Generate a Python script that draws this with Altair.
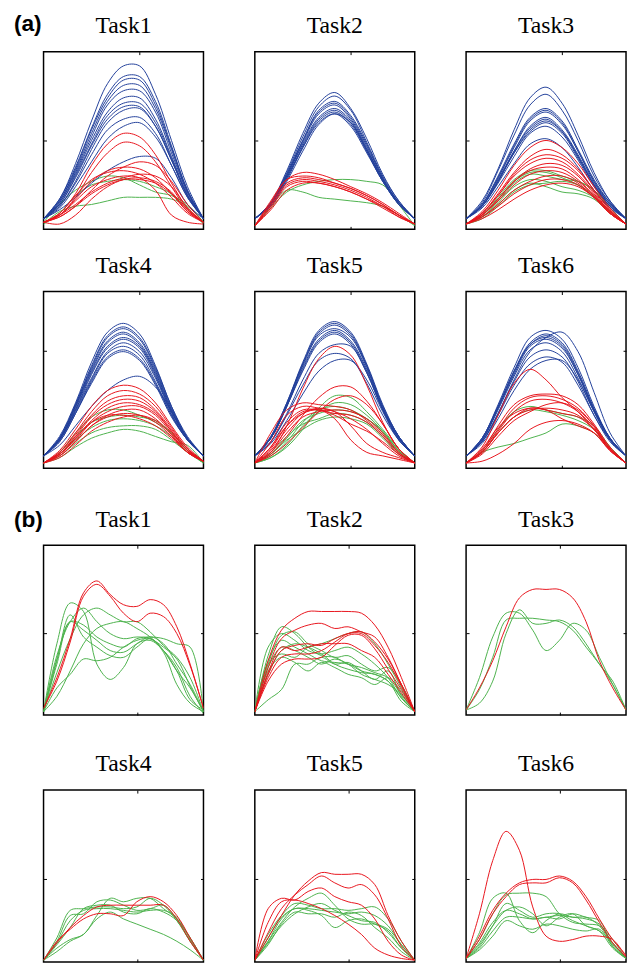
import altair as alt
import pandas as pd

# ---------------- data (percent of panel height, sampled across the movement) ----------------
BLUE = "#23409a"
RED = "#e8141c"
GREEN = "#4cb24c"

# ---- (a) ----
A1_BLUE = [
    [6, 17, 37, 61, 82, 92, 92, 76, 50, 24, 6],
    [6, 17, 35, 57, 76, 86, 86, 72, 47, 22, 6],
    [6, 16, 34, 56, 74, 84, 84, 70, 46, 22, 6],
    [6, 16, 33, 54, 72, 81, 81, 68, 45, 21, 6],
    [6, 15, 32, 52, 70, 78, 78, 66, 43, 21, 6],
    [6, 15, 31, 50, 66, 74, 74, 62, 41, 20, 6],
    [6, 14, 30, 48, 64, 71, 71, 60, 40, 19, 6],
    [6, 14, 29, 47, 62, 69, 69, 58, 39, 19, 6],
    [6, 13, 27, 45, 60, 67, 68, 58, 39, 19, 6],
    [6, 13, 26, 42, 56, 62, 63, 54, 36, 18, 6],
    [6, 12, 24, 38, 51, 58, 60, 52, 36, 18, 6],
    [6, 11, 18, 26, 33, 38, 41, 40, 29, 14, 6],
]
A1_RED = [
    [4, 9, 20, 36, 48, 54, 52, 42, 26, 12, 4],
    [4, 8, 18, 32, 43, 49, 47, 38, 24, 11, 4],
    [4, 7, 13, 22, 30, 35, 38, 36, 27, 14, 4],
    [4, 8, 17, 27, 33, 35, 34, 29, 20, 10, 4],
    [4, 9, 19, 28, 32, 33, 31, 26, 18, 9, 4],
    [4, 8, 14, 21, 26, 29, 31, 30, 24, 12, 4],
    [4, 3, 8, 17, 24, 28, 29, 27, 21, 10, 4],
    [4, 7, 13, 20, 25, 28, 28, 26, 20, 11, 4],
    [4, 8, 16, 24, 28, 30, 29, 22, 8, 4, 3],
]
A1_GREEN = [
    [4, 14, 22, 27, 30, 29, 25, 21, 19, 14, 4],
    [3, 10, 13, 14, 16, 18, 18, 18, 17, 13, 4],
    [3, 9, 19, 25, 27, 28, 27, 24, 20, 12, 3],
]

A2_BLUE = [
    [6, 15, 33, 54, 71, 77, 68, 51, 31, 16, 6],
    [6, 15, 32, 52, 69, 75, 67, 49, 30, 16, 6],
    [6, 15, 31, 50, 67, 72, 64, 48, 29, 15, 6],
    [6, 14, 31, 50, 66, 71, 63, 47, 29, 15, 6],
    [6, 14, 30, 49, 65, 70, 62, 46, 28, 15, 6],
    [6, 14, 30, 48, 63, 68, 61, 45, 28, 15, 6],
    [6, 14, 29, 47, 62, 67, 60, 44, 27, 15, 6],
    [6, 14, 29, 46, 61, 66, 59, 44, 27, 14, 6],
    [6, 14, 28, 46, 60, 65, 58, 43, 27, 14, 6],
    [6, 13, 27, 44, 59, 65, 60, 45, 28, 14, 6],
]
A2_RED = [
    [2, 15, 28, 32, 31, 28, 24, 20, 15, 9, 3],
    [2, 16, 28, 30, 29, 26, 23, 19, 14, 8, 3],
    [2, 14, 26, 29, 28, 26, 23, 19, 14, 8, 3],
    [2, 13, 25, 28, 27, 25, 22, 18, 13, 8, 3],
    [2, 12, 24, 27, 26, 24, 21, 17, 13, 7, 3],
    [2, 11, 22, 26, 26, 24, 21, 17, 12, 7, 3],
]
A2_GREEN = [
    [2, 12, 21, 25, 27, 28, 28, 27, 25, 14, 2],
    [2, 13, 22, 21, 18, 17, 16, 15, 13, 8, 2],
]

A3_BLUE = [
    [6, 16, 34, 56, 74, 80, 71, 53, 32, 16, 6],
    [6, 15, 33, 53, 70, 76, 67, 50, 30, 16, 6],
    [6, 14, 30, 48, 63, 68, 61, 45, 28, 15, 6],
    [6, 14, 29, 47, 62, 67, 60, 44, 27, 15, 6],
    [6, 14, 29, 46, 61, 66, 59, 44, 27, 14, 6],
    [6, 13, 28, 44, 58, 63, 56, 42, 26, 14, 6],
    [6, 13, 27, 44, 57, 62, 55, 41, 25, 14, 6],
    [6, 13, 27, 43, 56, 61, 55, 41, 25, 13, 6],
    [6, 13, 27, 43, 55, 60, 54, 40, 25, 13, 6],
    [6, 13, 26, 41, 54, 58, 52, 39, 24, 13, 6],
    [6, 12, 24, 37, 48, 51, 46, 35, 22, 12, 6],
]
A3_RED = [
    [3, 10, 22, 36, 46, 50, 46, 37, 24, 12, 3],
    [3, 9, 20, 32, 41, 45, 42, 34, 22, 11, 3],
    [3, 9, 19, 31, 39, 42, 40, 33, 22, 11, 3],
    [3, 9, 19, 30, 37, 40, 38, 31, 21, 10, 3],
    [3, 8, 17, 27, 34, 37, 36, 30, 20, 10, 3],
    [3, 8, 17, 27, 33, 35, 34, 28, 19, 10, 3],
    [3, 8, 16, 25, 31, 33, 32, 27, 19, 9, 3],
    [3, 7, 14, 22, 27, 30, 30, 26, 18, 9, 3],
    [3, 7, 13, 20, 25, 28, 28, 25, 18, 9, 3],
    [3, 6, 11, 17, 22, 25, 26, 24, 18, 9, 3],
]
A3_GREEN = [
    [3, 8, 18, 28, 33, 33, 30, 27, 22, 12, 3],
    [3, 8, 17, 27, 32, 32, 29, 25, 18, 10, 3],
    [3, 7, 16, 26, 31, 30, 28, 27, 22, 12, 3],
    [3, 7, 15, 24, 28, 27, 24, 22, 18, 10, 3],
    [3, 7, 14, 22, 26, 24, 21, 20, 17, 9, 3],
    [3, 6, 13, 21, 25, 26, 27, 25, 19, 10, 3],
]

A4_BLUE = [
    [7, 18, 37, 60, 77, 82, 76, 58, 35, 18, 7],
    [7, 17, 36, 58, 75, 80, 74, 57, 35, 17, 7],
    [7, 17, 36, 57, 74, 79, 73, 56, 34, 17, 7],
    [7, 17, 35, 56, 72, 77, 71, 55, 33, 17, 7],
    [7, 17, 35, 55, 71, 76, 70, 54, 33, 17, 7],
    [7, 16, 34, 54, 69, 74, 69, 53, 32, 17, 7],
    [7, 16, 33, 53, 68, 73, 68, 52, 32, 17, 7],
    [7, 16, 33, 51, 66, 71, 66, 51, 31, 16, 7],
    [7, 16, 32, 50, 65, 69, 64, 49, 30, 16, 7],
    [7, 15, 31, 49, 63, 67, 62, 48, 30, 16, 7],
    [7, 15, 31, 48, 62, 66, 61, 47, 29, 16, 7],
    [7, 13, 24, 35, 44, 50, 52, 46, 32, 16, 7],
]
A4_RED = [
    [3, 10, 22, 35, 44, 47, 45, 37, 24, 12, 4],
    [3, 9, 20, 32, 41, 44, 42, 35, 23, 11, 4],
    [3, 9, 19, 30, 38, 41, 40, 33, 22, 11, 4],
    [3, 8, 18, 29, 36, 39, 38, 32, 21, 10, 4],
    [3, 8, 17, 27, 34, 37, 36, 31, 21, 10, 4],
    [3, 8, 16, 26, 32, 35, 35, 30, 20, 10, 4],
    [3, 7, 15, 24, 30, 33, 33, 28, 19, 9, 4],
    [3, 7, 15, 24, 29, 31, 30, 26, 18, 9, 4],
    [3, 6, 13, 21, 26, 29, 30, 27, 19, 9, 4],
    [3, 8, 17, 26, 30, 30, 28, 24, 17, 9, 4],
]
A4_GREEN = [
    [3, 9, 20, 29, 33, 33, 30, 26, 20, 11, 3],
    [3, 8, 18, 26, 29, 30, 29, 27, 20, 10, 3],
    [3, 8, 16, 23, 27, 28, 27, 24, 18, 10, 3],
    [3, 7, 14, 20, 23, 24, 24, 22, 16, 9, 3],
    [3, 6, 12, 17, 20, 22, 21, 18, 15, 13, 3],
]

A5_BLUE = [
    [7, 18, 37, 60, 78, 83, 77, 59, 36, 18, 7],
    [7, 18, 37, 59, 77, 82, 76, 58, 35, 18, 7],
    [7, 17, 36, 59, 76, 81, 75, 58, 35, 18, 7],
    [7, 17, 36, 58, 75, 79, 74, 57, 34, 18, 7],
    [7, 17, 35, 57, 73, 78, 72, 56, 34, 17, 7],
    [7, 17, 35, 56, 72, 77, 71, 55, 33, 17, 7],
    [7, 17, 35, 55, 71, 76, 70, 54, 33, 17, 7],
    [7, 15, 31, 50, 65, 70, 69, 54, 33, 16, 7],
    [7, 15, 30, 47, 61, 65, 62, 48, 30, 16, 7],
    [7, 14, 27, 42, 55, 61, 61, 50, 32, 16, 7],
]
A5_RED = [
    [3, 9, 24, 45, 62, 69, 64, 47, 26, 11, 3],
    [3, 8, 18, 30, 40, 46, 46, 38, 25, 11, 3],
    [3, 7, 14, 23, 32, 39, 41, 36, 25, 11, 3],
    [3, 20, 33, 37, 36, 35, 33, 27, 19, 9, 3],
    [3, 15, 30, 35, 34, 32, 28, 22, 14, 7, 3],
    [3, 10, 22, 31, 34, 32, 24, 14, 9, 6, 3],
    [3, 12, 26, 33, 33, 31, 30, 26, 18, 8, 3],
    [3, 9, 20, 29, 32, 33, 32, 28, 20, 9, 3],
    [3, 11, 24, 32, 33, 30, 25, 21, 15, 8, 3],
    [3, 12, 24, 31, 33, 28, 16, 9, 7, 5, 3],
]
A5_GREEN = [
    [3, 6, 12, 22, 34, 41, 40, 32, 22, 11, 3],
    [3, 6, 13, 24, 32, 37, 36, 30, 21, 10, 3],
    [3, 7, 15, 26, 33, 35, 33, 28, 20, 10, 3],
    [3, 8, 17, 27, 31, 33, 32, 28, 21, 10, 3],
    [3, 9, 18, 25, 28, 31, 30, 26, 18, 9, 3],
    [3, 8, 16, 22, 27, 29, 28, 25, 17, 8, 3],
]

A6_BLUE = [
    [7, 17, 36, 57, 74, 78, 73, 57, 35, 17, 7],
    [7, 15, 31, 50, 66, 74, 77, 66, 43, 20, 7],
    [7, 17, 35, 55, 71, 76, 71, 55, 34, 17, 7],
    [7, 17, 35, 55, 70, 75, 70, 54, 33, 17, 7],
    [7, 16, 34, 54, 70, 74, 69, 53, 33, 17, 7],
    [7, 16, 34, 53, 69, 73, 68, 53, 33, 16, 7],
    [7, 16, 33, 52, 67, 71, 66, 51, 32, 16, 7],
    [7, 15, 31, 49, 63, 67, 63, 49, 30, 16, 7],
    [7, 15, 30, 47, 59, 63, 60, 47, 30, 15, 7],
    [7, 14, 28, 44, 56, 61, 61, 50, 32, 16, 7],
]
A6_RED = [
    [3, 12, 30, 48, 56, 50, 40, 32, 22, 11, 3],
    [3, 10, 24, 36, 41, 42, 41, 36, 25, 12, 3],
    [3, 10, 22, 34, 40, 41, 39, 34, 24, 11, 3],
    [3, 9, 21, 32, 38, 39, 37, 32, 23, 11, 3],
    [3, 11, 23, 31, 34, 33, 31, 29, 22, 11, 3],
    [3, 9, 20, 29, 33, 34, 33, 30, 22, 10, 3],
    [3, 4, 8, 14, 22, 26, 27, 25, 20, 10, 3],
    [3, 8, 18, 27, 32, 36, 37, 33, 24, 11, 3],
    [3, 9, 20, 29, 34, 33, 28, 24, 20, 10, 3],
]
A6_GREEN = [
    [3, 10, 22, 32, 35, 33, 31, 29, 24, 12, 3],
    [3, 9, 12, 14, 17, 20, 25, 24, 20, 11, 3],
    [3, 9, 20, 29, 33, 32, 30, 27, 22, 12, 3],
]

# ---- (b) ----
B1_RED = [
    [4, 22, 45, 72, 79, 71, 65, 64, 68, 65, 52, 30, 4],
    [4, 20, 43, 70, 77, 70, 60, 55, 60, 58, 48, 29, 4],
]
B1_GREEN = [
    [2, 42, 66, 61, 30, 21, 28, 42, 44, 38, 28, 11, 1],
    [2, 35, 55, 63, 55, 48, 45, 46, 45, 40, 33, 17, 2],
    [2, 25, 45, 59, 63, 59, 55, 55, 49, 41, 34, 22, 2],
    [2, 30, 55, 53, 46, 42, 40, 45, 46, 45, 42, 40, 2],
    [2, 16, 24, 33, 32, 34, 40, 44, 45, 38, 26, 9, 3],
    [2, 11, 26, 42, 51, 54, 55, 51, 46, 38, 26, 16, 2],
    [2, 33, 55, 50, 44, 38, 37, 42, 46, 42, 30, 18, 2],
    [2, 32, 59, 46, 40, 35, 34, 40, 45, 37, 18, 7, 2],
]

B2_RED = [
    [2, 32, 50, 57, 61, 61, 61, 61, 60, 53, 40, 22, 2],
    [2, 28, 45, 50, 53, 54, 51, 52, 49, 46, 34, 18, 2],
    [2, 24, 38, 41, 42, 41, 45, 48, 48, 41, 31, 17, 2],
    [2, 22, 34, 36, 36, 38, 43, 48, 49, 43, 33, 18, 2],
    [2, 20, 30, 33, 33, 34, 41, 47, 47, 39, 27, 15, 2],
    [2, 25, 40, 38, 40, 42, 42, 42, 38, 34, 24, 13, 2],
]
B2_GREEN = [
    [2, 35, 52, 48, 40, 35, 34, 30, 28, 25, 22, 12, 2],
    [2, 40, 48, 44, 38, 36, 38, 40, 36, 30, 22, 10, 2],
    [2, 30, 47, 49, 42, 38, 34, 35, 30, 26, 28, 18, 2],
    [2, 30, 36, 34, 40, 42, 45, 48, 49, 42, 30, 16, 2],
    [2, 9, 15, 30, 30, 34, 30, 31, 26, 21, 26, 11, 2],
    [2, 26, 34, 31, 26, 31, 28, 24, 22, 18, 22, 14, 2],
    [2, 32, 44, 40, 36, 32, 31, 30, 26, 24, 20, 10, 2],
    [2, 28, 40, 38, 34, 30, 33, 30, 24, 21, 18, 12, 2],
    [2, 24, 38, 42, 40, 36, 30, 27, 25, 24, 20, 8, 2],
]

B3_RED = [
    [3, 16, 32, 52, 69, 74, 74, 74, 69, 55, 32, 16, 3],
]
B3_GREEN = [
    [3, 22, 46, 60, 60, 50, 38, 44, 54, 50, 34, 18, 3],
    [3, 15, 34, 56, 57, 57, 56, 55, 50, 40, 30, 18, 3],
    [3, 7, 20, 48, 62, 54, 54, 56, 52, 42, 30, 20, 3],
]

B4_RED = [
    [1, 12, 19, 25, 28, 28, 27, 35, 38, 35, 27, 14, 1],
    [1, 11, 20, 27, 32, 33, 33, 33, 33, 33, 25, 12, 1],
]
B4_GREEN = [
    [1, 12, 27, 28, 35, 36, 33, 30, 31, 33, 25, 14, 1],
    [1, 8, 13, 16, 27, 37, 35, 37, 37, 31, 25, 14, 1],
    [1, 6, 12, 16, 25, 29, 25, 22, 19, 16, 12, 7, 1],
    [1, 14, 30, 31, 32, 32, 31, 32, 37, 33, 24, 12, 1],
    [1, 10, 20, 31, 33, 33, 29, 28, 31, 29, 24, 12, 1],
    [1, 11, 24, 30, 31, 31, 30, 29, 30, 30, 26, 13, 1],
]

B5_RED = [
    [1, 14, 27, 39, 47, 52, 51, 51, 51, 45, 27, 12, 1],
    [1, 17, 31, 39, 45, 50, 46, 43, 45, 39, 25, 9, 1],
    [1, 31, 37, 36, 41, 43, 38, 35, 33, 25, 12, 4, 1],
    [1, 23, 35, 36, 34, 31, 27, 22, 16, 8, 4, 2, 1],
]
B5_GREEN = [
    [1, 12, 23, 32, 37, 40, 33, 25, 22, 22, 19, 10, 1],
    [1, 16, 27, 34, 33, 31, 31, 30, 31, 32, 25, 12, 1],
    [1, 12, 25, 31, 30, 27, 20, 24, 25, 22, 18, 8, 1],
    [1, 10, 22, 29, 28, 28, 26, 29, 27, 20, 14, 6, 1],
    [1, 14, 26, 31, 31, 30, 29, 28, 29, 27, 21, 10, 1],
    [1, 11, 21, 28, 32, 34, 30, 27, 24, 23, 17, 8, 1],
]

B6_RED = [
    [2, 28, 59, 76, 65, 32, 15, 12, 13, 15, 15, 13, 3],
    [2, 15, 30, 40, 46, 48, 48, 50, 47, 38, 25, 13, 4],
    [2, 13, 28, 38, 45, 46, 46, 49, 46, 36, 23, 11, 3],
]
B6_GREEN = [
    [2, 17, 37, 40, 24, 17, 24, 28, 26, 26, 21, 10, 2],
    [2, 13, 28, 39, 40, 40, 38, 28, 23, 22, 21, 13, 2],
    [2, 9, 21, 34, 30, 26, 28, 28, 24, 21, 18, 11, 2],
    [2, 11, 23, 30, 28, 25, 26, 25, 28, 26, 24, 9, 2],
    [2, 8, 18, 26, 26, 25, 26, 27, 26, 25, 22, 11, 2],
    [2, 7, 15, 24, 21, 19, 22, 21, 19, 18, 19, 9, 2],
    [2, 10, 21, 30, 32, 28, 21, 26, 28, 21, 18, 8, 2],
]

TITLES = ["Task1", "Task2", "Task3", "Task4", "Task5", "Task6"]
SECTION_LABELS = ["(a)", "(b)"]
A_ROW1_YTICKS = [50]
A_ROW2_YTICKS = [33.3, 66.7]
B_YTICKS = [48]
A_XMAX, A_XTICK = 10, 6
B_XMAX, B_XTICK = 12, 7

W = 162


def curves_df(curves, key):
    rows = []
    for i, c in enumerate(curves):
        for k, v in enumerate(c):
            rows.append({"id": f"{key}{i}", "x": k, "y": v})
    return pd.DataFrame(rows)


def make_axis(orient, values):
    return alt.Axis(orient=orient, values=values, domain=False, labels=False, grid=False,
                    ticks=True, tickSize=3, tickWidth=1, tickColor="black", offset=-3,
                    minExtent=0, maxExtent=0)


def text_layer(txt, x, y, font, size, weight, align, color):
    return alt.Chart(pd.DataFrame({"t": [txt]})).mark_text(
        font=font, fontSize=size, fontWeight=weight, align=align,
        baseline="alphabetic", color=color
    ).encode(text="t:N", x=alt.value(x), y=alt.value(y))


def panel(title, blue, red, green, xmax, xtick, yticks, h, label, label_color, label_dy):
    xs = alt.Scale(domain=[0, xmax], nice=False, zero=False)
    ys = alt.Scale(domain=[0, 100], nice=False, zero=False)

    def lay(curves, color, key, xo, yo):
        xa = make_axis(xo, [xtick]) if xo else None
        ya = make_axis(yo, yticks) if yo else None
        return alt.Chart(curves_df(curves, key)).mark_line(
            interpolate="catmull-rom", strokeWidth=1, color=color, clip=True
        ).encode(
            x=alt.X("x:Q", scale=xs, axis=xa, title=None),
            y=alt.Y("y:Q", scale=ys, axis=ya, title=None),
            detail="id:N",
        )

    layers = [lay(green, GREEN, "g", "bottom", "left")]
    if blue:
        layers.append(lay(blue, BLUE, "b", "top", "right"))
        layers.append(lay(red, RED, "r", None, None))
    else:
        layers.append(lay(red, RED, "r", "top", "right"))
    layers.append(text_layer(title, W / 2, -19, "Liberation Serif", 24, "normal", "center", "black"))
    if label:
        layers.append(text_layer(label, -30, label_dy, "Liberation Sans", 23, "bold", "left", label_color))
    return alt.layer(*layers).resolve_axis(x="independent", y="independent").properties(
        width=W, height=h
    )


A_SETS = [(A1_BLUE, A1_RED, A1_GREEN), (A2_BLUE, A2_RED, A2_GREEN), (A3_BLUE, A3_RED, A3_GREEN),
          (A4_BLUE, A4_RED, A4_GREEN), (A5_BLUE, A5_RED, A5_GREEN), (A6_BLUE, A6_RED, A6_GREEN)]
B_SETS = [(None, B1_RED, B1_GREEN), (None, B2_RED, B2_GREEN), (None, B3_RED, B3_GREEN),
          (None, B4_RED, B4_GREEN), (None, B5_RED, B5_GREEN), (None, B6_RED, B6_GREEN)]


def row(sets, idx, xmax, xtick, yticks, h, label, label_color, label_dy):
    return alt.hconcat(*[
        panel(TITLES[i], *sets[i], xmax, xtick, yticks, h,
              label if i == idx[0] else None, label_color, label_dy)
        for i in idx], spacing=52, bounds="flush")


rowA1 = row(A_SETS, [0, 1, 2], A_XMAX, A_XTICK, A_ROW1_YTICKS, 180, SECTION_LABELS[0], "black", -21)
rowA2 = row(A_SETS, [3, 4, 5], A_XMAX, A_XTICK, A_ROW2_YTICKS, 179, SECTION_LABELS[0], "white", -21)
rowB1 = row(B_SETS, [0, 1, 2], B_XMAX, B_XTICK, B_YTICKS, 172, SECTION_LABELS[1], "black", -19)
rowB2 = row(B_SETS, [3, 4, 5], B_XMAX, B_XTICK, B_YTICKS, 174, SECTION_LABELS[1], "white", -19)

secA = alt.vconcat(rowA1, rowA2, spacing=21)
secB = alt.vconcat(rowB1, rowB2, spacing=35)

chart = alt.vconcat(secA, secB, spacing=37).properties(
    padding={"left": 5, "top": -2, "right": 0, "bottom": 0}
).configure_view(
    stroke="black", strokeWidth=1.5
)

chart.save("out.html", embed_options={"renderer": "svg", "actions": False})
